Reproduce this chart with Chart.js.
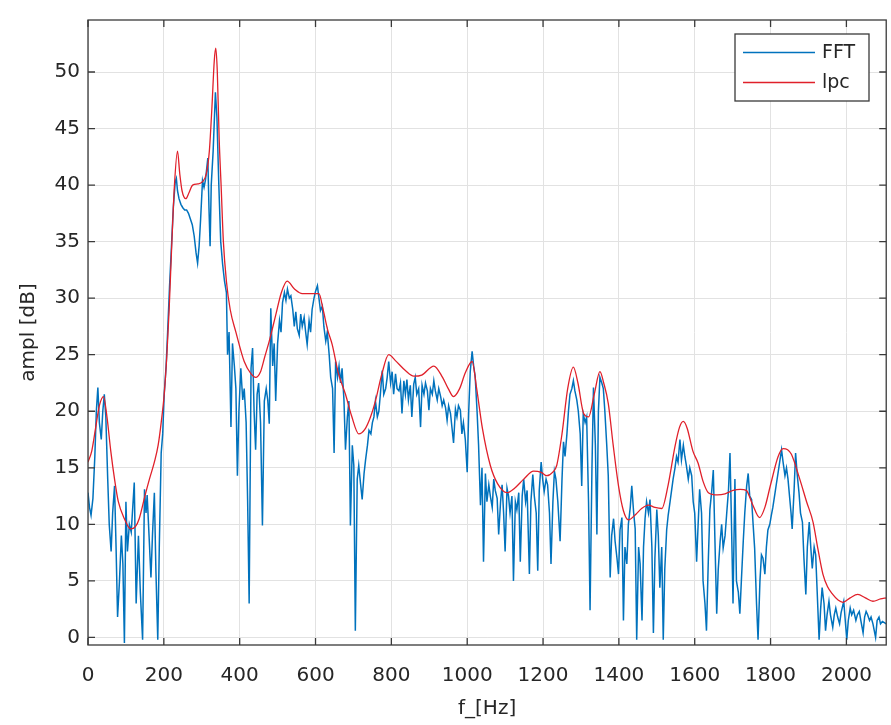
<!DOCTYPE html>
<html><head><meta charset="utf-8">
<script src="https://cdn.jsdelivr.net/npm/chart.js@4.4.1/dist/chart.umd.min.js"></script>
<style>html,body{margin:0;padding:0;background:#fff}#wrap{width:891px;height:725px}</style>
</head><body><div id="wrap"><canvas id="c" width="891" height="725"></canvas></div>
<script>
// ---- data ----
const fftFreq = [
 0,4,8,13,18,22,26,30,35,39,43,47,52,56,61,65,70,74,78,83,88,92,96,100,104,109,114,118,122,127,130,133,138,144,149,153,156,161,166,170,175,179,184,188,193,197,201,
 206,210,215,220,225,230,233,236,240,245, 250,255,260,265,270,275,280,285,289,293, 297,302,306,310,316,319,322,325,330,336, 340,345,350,355,360,365,368,372,377,381, 386,390,394,398,403,408,412,417,421,425,
 430,434,438,442,446,450,455,460,465,470, 474,478,482,487,491,495,500,505,509,513, 518,522,526,531,535,540,544,548,552,557, 561,565,570,574,578,583,587,591,596,600, 605,609,613,618,622,627,631,636,640,645, 649,653,658,662,666,670,675,679,684,688, 692,697,
 701,705,710,714,719,723,728,732,737,741, 746,750,754,758,763,767,771,776,780,785, 789,793,798,802,806,811,815,820,824,828, 833,837,841,845,850,854,859,863,867,872, 877,881,886,890,895,899,903,908,912,916, 921,925,930,934,938,943,947,951,956,960, 964,969,973,977,982,986,990,995,1000,
 1004,1008,1013,1017,1021,1026,1030,1035,1039,1043, 1048,1052,1057,1061,1066,1070,1074,1079,1083,1088, 1092,1096,1100,1105,1109,1113,1118,1122,1127,1131, 1136,1140,1145,1149,1154,1158,1164,1168,1173,1177, 1182,1186,1190,1195,1199,1203,1208,1212,1217,1221, 1226,1230,1234,1239,1245,1250,1254,1258,1263,1267, 1271,1276,1280,1284,1289,1293,1298,
 1302,1306,1311,1315,1320,1324,1329,1333,1338,1342, 1346,1350,1355,1359,1363,1368,1372,1377,1381,1386, 1390,1395,1399,1403,1408,1412,1416,1421,1425,1430, 1434,1439,1443,1447,1452,1456,1461,1465,1469,1473, 1478,1482,1487,1491,1495,1500,1504,1508,1513,1517, 1521,1526,1530,1535,1539,1543,1548,1552,1556,1561, 1565,1570,1574,1578,1583,1587,1592,1596,1600,
 1605,1609,1613,1618,1622,1627,1631,1636,1640,1645, 1649,1653,1658,1662,1667,1671,1675,1680,1684,1689, 1693,1697,1701,1706,1710,1715,1719,1723,1728,1732, 1737,1741,1745,1750,1754,1758,1763,1767,1772,1776, 1780,1785,1789,1793,1798,1802,1806,1811,1815,1820, 1824,1829,1833,1838,1842,1846,1850,1854,1857,1862, 1866,1870,1875,1879,1884,1888,1893,1897,
 1902,1906,1910,1915,1919,1923,1928,1932,1936,1941, 1945,1949,1954,1958,1964,1968,1972,1977,1982,1986, 1993,1997,2001,2005,2010,2014,2019,2025,2029,2034, 2038,2044,2048,2052,2056,2061,2065,2070,2077,2081, 2086,2090,2095,2100,2105
];
const fftAmp = [
 12.8,11.5,10.8,12.3,16,20,22.1,19,17.5,20,21.5,19.5,14,10,7.6,11,13.4,8,1.8,5,9,6.5,-0.5,12.0,7.6,10,9.3,11.5,13.7,3.0,6,9.0,4,-0.2,13.1,11,12.6,9,5.3,9,12.8,6,-0.2,8,16.3,18,21.5,
 24,27,31,34.5,38,40.3,40.6,39.5,38.8,38.3, 38,37.8,37.8,37.5,37,36.5,35.5,34,33.1,34.6, 37,40.4,39.8,40.5,42.4,38,34.6,40,43,48.2, 46,40,35,33,31.5,30.5,25,27,18.6,26, 24,22,14.3,20,23.8,21,22,19,12,3.0,
 23.8,25.6,20,16.6,21.5,22.5,19,9.9,20.9,22, 21,18.9,29.1,24,26,20.9,26,28,27,29.6, 30.5,29.8,30.8,30,30.2,29,27.5,28.8,27.3,26.7, 28.6,27.5,28.3,27,25.9,28,27,29,30,30.6, 31.1,30,28.9,29.3,27.5,26.2,27,25,23,22, 16.3,24.4,23,24,22.5,23.8,21,16.6,19.5,20.9, 9.9,17,
 15.2,0.6,14,15.2,13.5,12.2,14.5,15.7,17,18.3, 18,19,19.5,20.9,19.5,20,21.5,23.6,21.5,22, 23,24.4,22.5,23.5,21.5,23.3,22,21.8,22.5,19.8, 22.7,21.5,22.8,21,22.3,19.5,22.4,23,21.5,22, 18.6,22.3,21.5,22.5,21.8,20.1,22,21.5,22.7,21.8, 21,22,21.3,20.5,21,20.3,19.2,20.5,19.8,18.5, 17.2,20.2,19.5,20.5,20.1,18,19,17.5,14.6,
 20,23.5,25.3,24,23.1,20,17,11.7,15,6.7, 14.5,12,13.5,12.5,11.5,14,13,12.3,9.1,12, 13.5,11,7.6,13.2,12.5,11,12.5,5.0,12,11.3, 12.8,6.7,12.5,14,12,13,5.6,12,14.4,12.5, 11,5.9,13,15.5,14,12.9,14,13.5,11,6.5, 12,14.7,14,12,8.5,14,17.3,16,18,20, 21.5,22,22.7,21.8,21,20,18,
 13.4,19.8,19,19.5,12,2.4,15,22.1,17,9.1, 20,23.0,22.5,22,20,17,14.3,5.3,9,10.5, 8.5,7,5.6,9.5,10.6,1.5,8,6.5,10,11.5, 13.4,11,9.6,-0.2,8,6.5,1.5,8,10.5,12, 11,12.2,8,0.4,7,11.3,9,4.4,8,-0.2, 6,9.5,10.8,12,13,14,15,16,15.5,17.5, 15.7,17,16,15.2,14,15,14.3,12,11,
 6.7,10,13.1,11,5,3,0.6,7,11.3,13, 14.8,9,2.1,6,8.5,10,7.9,9,10.8,13, 16.3,10,3.0,14,5,4,2.1,5,8.5,11, 13.4,14.5,12.5,12.2,10,7.9,3,-0.2,5,7.3, 7,5.6,8,9.5,10,10.8,11.5,12.6,13.5,14.6, 15.5,16.6,15.5,14.3,15,14,12.5,11,9.6,13, 16.3,14.5,12.8,11,10.2,7,3.8,8,
 10.2,8,6.1,8,7.3,4,-0.2,2.5,4.4,3, 0.6,2,3.2,2,0.9,2,2.6,1.8,1.2,2.2, 3.2,1.5,-0.2,1.5,2.6,2,2.4,1.5,2,2.3, 1.5,0.4,1.8,2.3,2,1.5,1.8,1.2,0,1.5, 1.8,1.2,1.4,1.3,1.2
];
const lpcFreq = [
 0,10,20,30,41,50,60,70,80,96, 112,125,135,150,162,175,185,193,201,208, 214,220,228,236,242,248,258,266,276,290,
 302,312,320,327,333,337,341,346,351,357, 365,375,390,412,430,442,455,466,478,495, 510,525,545,565,590,609,620,632,644,660,
 679,695,714,730,745,758,775,793,810,837, 859,880,912,935,950,964,980,995,1013,1025, 1040,1061,1080,1105,1125,1149,1175,1195,1210,1225,
 1236,1250,1265,1280,1292,1307,1320,1335,1350,1360, 1372,1385,1399,1412,1425,1445,1460,1478,1495,1513, 1530,1548,1560,1570,1580,1595,1609,1622,1636,1660,
 1680,1701,1720,1736,1752,1771,1785,1800,1820,1833, 1845,1855,1877,1895,1912,1925,1938,1950,1964,1978, 1991,2010,2030,2050,2070,2090,2105
];
const lpcAmp = [
 15.5,16.5,18.5,20.5,21.3,19.5,16.5,14,12,10.5, 9.6,9.8,10.5,12.5,14,15.5,17,19,21.5,25, 29,34,40,43,41,39.5,38.8,39.3,40,40.1,
 40.3,41,43,47,51,52.1,50,44,40,35, 31.5,29,27,24.4,23.3,23,23.5,24.8,26.2,28.5, 30.5,31.5,30.8,30.4,30.4,30.4,29,27.2,25.9,23.4,
 21.5,19.6,18,18.4,19.5,20.9,23.3,25,24.5,23.6, 23.1,23.2,24,23,22,21.3,22,23.4,24.4,22, 18.5,15.2,13.6,12.8,13.2,14,14.7,14.6,14.3,14.6,
 15.2,18,22,23.9,22.5,19.8,19.5,21.5,23.5,22.5, 20.7,17,13.4,11.2,10.4,10.9,11.4,11.7,11.5,11.4, 13.5,16.9,18.6,19.1,18.5,16.5,15.4,13.8,12.8,12.6,
 12.7,13,13.1,13,11.8,10.6,11.5,13.5,16,16.7, 16.6,16.2,14,12,10.2,7.8,5.6,4.5,3.8,3.3, 3.1,3.5,3.8,3.5,3.2,3.4,3.5
];
const seriesNames = ['FFT', 'lpc'];
const xTicks = [0,200,400,600,800,1000,1200,1400,1600,1800,2000];
const yTicks = [0,5,10,15,20,25,30,35,40,45,50];
const xRange = [0, 2105];
const yRange = [-0.67, 54.6];
const xTitle = 'f_[Hz]';
const yTitle = 'ampl [dB]';

// ---- chart ----
const FONT = '"DejaVu Sans", Verdana, sans-serif';
const TXT = '#262626';
const toPts = (xs, ys) => xs.map((f, i) => ({x: f, y: ys[i]}));

const framePlugin = {
  id: 'frame',
  afterDatasetsDraw(chart) {
    const {ctx, chartArea: a, scales: {x, y}} = chart;
    ctx.save();
    ctx.strokeStyle = '#3a3a3a';
    ctx.lineWidth = 1.3;
    ctx.strokeRect(a.left, a.top, a.right - a.left, a.bottom - a.top);
    ctx.beginPath();
    const L = 7;
    xTicks.forEach(v => { const p = x.getPixelForValue(v);
      ctx.moveTo(p, a.bottom); ctx.lineTo(p, a.bottom - L);
      ctx.moveTo(p, a.top); ctx.lineTo(p, a.top + L); });
    yTicks.forEach(v => { const p = y.getPixelForValue(v);
      ctx.moveTo(a.left, p); ctx.lineTo(a.left + L, p);
      ctx.moveTo(a.right, p); ctx.lineTo(a.right - L, p); });
    ctx.stroke();
    // legend box
    const bx = 735, by = 34, bw = 134, bh = 67;
    ctx.fillStyle = '#fff';
    ctx.fillRect(bx, by, bw, bh);
    ctx.lineWidth = 1.3;
    ctx.strokeStyle = '#3a3a3a';
    ctx.strokeRect(bx, by, bw, bh);
    ctx.font = '19px ' + FONT;
    ctx.textBaseline = 'middle';
    ctx.textAlign = 'left';
    chart.data.datasets.forEach((ds, i) => {
      const ly = by + 18.5 + i * 30;
      ctx.strokeStyle = ds.borderColor;
      ctx.lineWidth = ds.borderWidth;
      ctx.beginPath(); ctx.moveTo(bx + 8, ly); ctx.lineTo(bx + 80, ly); ctx.stroke();
      ctx.fillStyle = TXT;
      ctx.fillText(ds.label, bx + 87, ly + 1);
    });
    ctx.restore();
  }
};

new Chart(document.getElementById('c'), {
  type: 'line',
  data: {
    datasets: [
      {label: seriesNames[0], data: toPts(fftFreq, fftAmp), borderColor: '#0072BD', borderWidth: 1.5, pointRadius: 0, tension: 0, order: 1},
      {label: seriesNames[1], data: toPts(lpcFreq, lpcAmp), borderColor: '#e0202a', borderWidth: 1.3, pointRadius: 0, cubicInterpolationMode: 'monotone', order: 0}
    ]
  },
  options: {
    responsive: false, animation: false, devicePixelRatio: 1,
    layout: {padding: {top: 10, right: 3, left: 0, bottom: 0}},
    plugins: {legend: {display: false}, tooltip: {enabled: false}},
    scales: {
      x: {
        type: 'linear', min: xRange[0], max: xRange[1],
        afterBuildTicks: s => { s.ticks = xTicks.map(v => ({value: v})); },
        afterFit: s => { s.height = 80; },
        grid: {color: '#e2e2e2', lineWidth: 1, drawTicks: false},
        border: {display: false},
        ticks: {font: {family: FONT, size: 20}, color: TXT, padding: 19, maxRotation: 0, autoSkip: false, callback: v => String(v)},
        title: {display: true, text: xTitle, font: {family: FONT, size: 20}, color: TXT, padding: {top: 0, bottom: 4}}
      },
      y: {
        type: 'linear', min: yRange[0], max: yRange[1],
        afterBuildTicks: s => { s.ticks = yTicks.map(v => ({value: v})); },
        afterFit: s => { s.width = 88; },
        grid: {color: '#e2e2e2', lineWidth: 1, drawTicks: false},
        border: {display: false},
        ticks: {font: {family: FONT, size: 20}, color: TXT, padding: 8, callback: v => String(v)},
        title: {display: true, text: yTitle, font: {family: FONT, size: 20}, color: TXT, padding: {top: 17, bottom: 0}}
      }
    }
  },
  plugins: [framePlugin]
});
</script>
</body></html>
